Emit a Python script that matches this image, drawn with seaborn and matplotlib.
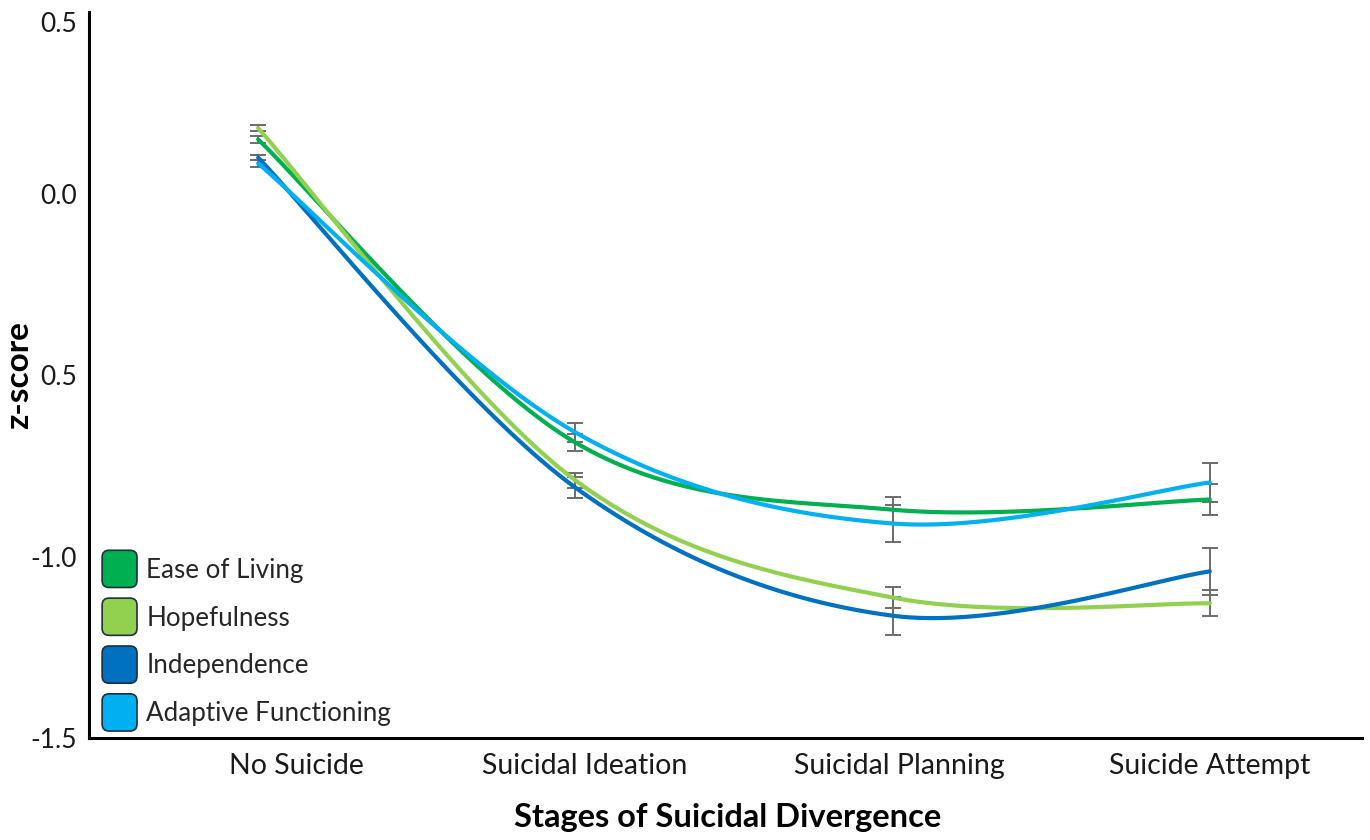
import numpy as np
import pandas as pd
import matplotlib
matplotlib.use("Agg")
import matplotlib.pyplot as plt
import seaborn as sns
from matplotlib.patches import FancyBboxPatch, Patch
from matplotlib.legend_handler import HandlerPatch

# ---- data -------------------------------------------------------------
stages = ["No Suicide", "Suicidal Ideation", "Suicidal Planning", "Suicide Attempt"]
series_names = ["Ease of Living", "Hopefulness", "Independence", "Adaptive Functioning"]

ease_of_living = [0.149, -0.686, -0.871, -0.843]
hopefulness = [0.180, -0.790, -1.113, -1.129]
independence = [0.099, -0.810, -1.163, -1.041]
adaptive_functioning = [0.083, -0.658, -0.909, -0.796]

ease_err = [0.010, 0.024, 0.036, 0.043]
hope_err = [0.009, 0.020, 0.030, 0.036]
indep_err = [0.008, 0.028, 0.052, 0.065]
adapt_err = [0.009, 0.026, 0.052, 0.055]

ytick_values = [0.5, 0.0, -0.5, -1.0, -1.5]
ytick_labels = ["0.5", "0.0", "0.5", "-1.0", "-1.5"]

colors = ["#00B050", "#92D050", "#0070C0", "#00B0F0"]

values = [ease_of_living, hopefulness, independence, adaptive_functioning]
errors = [ease_err, hope_err, indep_err, adapt_err]


def smooth_curve(xs, ys, n=40):
    """Catmull-Rom style smoothed line through the points (spreadsheet-like)."""
    pts = np.column_stack([xs, ys]).astype(float)
    ext = np.vstack([pts[0], pts, pts[-1]])
    out = []
    for i in range(1, len(ext) - 2):
        p0, p1, p2, p3 = ext[i - 1], ext[i], ext[i + 1], ext[i + 2]
        c1 = p1 + (p2 - p0) / 6.0
        c2 = p2 - (p3 - p1) / 6.0
        t = np.linspace(0, 1, n, endpoint=(i == len(ext) - 3))[:, None]
        seg = ((1 - t) ** 3) * p1 + 3 * ((1 - t) ** 2) * t * c1 + 3 * (1 - t) * t ** 2 * c2 + t ** 3 * p2
        out.append(seg)
    out = np.vstack(out)
    return out[:, 0], out[:, 1]


x_pos = np.arange(len(stages))
rows = []
for name, vals in zip(series_names, values):
    sx, sy = smooth_curve(x_pos, vals)
    for a, b in zip(sx, sy):
        rows.append({"stage_pos": a, "z": b, "measure": name})
curve_df = pd.DataFrame(rows)

# ---- figure -----------------------------------------------------------
sns.set_style("white")
plt.rcParams["font.family"] = ["Lato", "DejaVu Sans"]

fig = plt.figure(figsize=(13.7, 8.4), dpi=100)
ax = fig.add_axes([0.065, 0.1214, 0.929, 0.8643])

# error bars under the lines
for vals, errs in zip(values, errors):
    ax.errorbar(x_pos, vals, yerr=errs, fmt="none", ecolor="#6b6b6b",
                elinewidth=1.4, capsize=6, capthick=1.4, zorder=2)

sns.lineplot(data=curve_df, x="stage_pos", y="z", hue="measure",
             hue_order=series_names, palette=colors, sort=False,
             linewidth=3.0, legend=False, ax=ax, zorder=3)

ax.set_xlim(-0.533, 3.479)
ax.set_ylim(-1.5, 0.5)

# axes styling
for side in ["top", "right"]:
    ax.spines[side].set_visible(False)
for side in ["left", "bottom"]:
    ax.spines[side].set_color("black")
    ax.spines[side].set_linewidth(2.2)

label_shift = [0.12, 0.03, 0.02, 0.0]
ax.set_xticks([p + s for p, s in zip(x_pos, label_shift)])
ax.set_xticklabels(stages, fontsize=20.5, color="#1a1a1a")
ax.set_yticks(ytick_values)
ax.set_yticklabels(ytick_labels, fontsize=19, color="#1a1a1a")
ax.tick_params(axis="x", length=0, pad=11)
ax.tick_params(axis="y", length=0, pad=9)
ax.get_yticklabels()[0].set_verticalalignment("top")

ax.set_xlabel("Stages of Suicidal Divergence", fontsize=23.5, fontweight="bold",
              color="black", va="center")
ax.xaxis.set_label_coords(0.502, -0.1088)
ax.set_ylabel("z-score", fontsize=24, fontweight="bold", color="black",
              va="center", ha="center")
ax.yaxis.set_label_coords(-0.055, 0.50)
ax.grid(False)


class RoundedHandler(HandlerPatch):
    def create_artists(self, legend, orig_handle, xdescent, ydescent,
                       width, height, fontsize, trans):
        p = FancyBboxPatch((-xdescent + 1, -ydescent - 0.3 * height), width - 2,
                           height * 1.6,
                           boxstyle="round,pad=0,rounding_size=5",
                           facecolor=orig_handle.get_facecolor(),
                           edgecolor="#1e3040", linewidth=1.2)
        p.set_transform(trans)
        return [p]


handles = [Patch(facecolor=c, label=n) for c, n in zip(colors, series_names)]
leg = ax.legend(handles=handles, loc="lower left", bbox_to_anchor=(0.0, 0.0),
                frameon=False, fontsize=18.7, handlelength=1.45, handleheight=1.0,
                handletextpad=0.3, labelspacing=0.86, borderaxespad=0.0,
                borderpad=0.45, handler_map={Patch: RoundedHandler()})

fig.savefig("out.png", dpi=100)
